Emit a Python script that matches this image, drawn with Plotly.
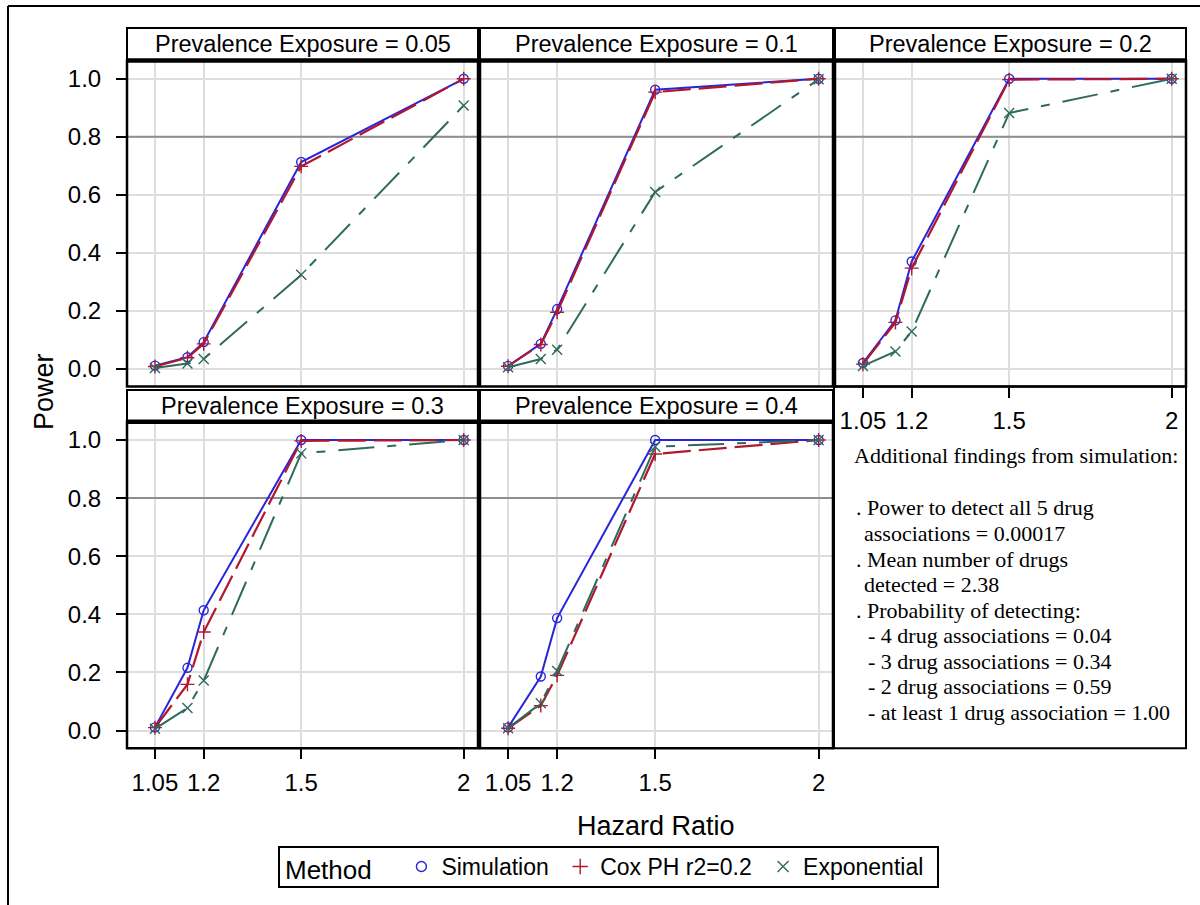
import plotly.graph_objects as go

W, H = 1200, 905

# ---------------- data ----------------
hazard_ratio = [1.05, 1.15, 1.2, 1.5, 2.0]
x_tick_values = [1.05, 1.2, 1.5, 2.0]
x_tick_labels = ["1.05", "1.2", "1.5", "2"]
y_tick_values = [0.0, 0.2, 0.4, 0.6, 0.8, 1.0]
y_tick_labels = ["0.0", "0.2", "0.4", "0.6", "0.8", "1.0"]
power_target = 0.8

prevalence_labels = ["0.05", "0.1", "0.2", "0.3", "0.4"]
method_names = ["Simulation", "Cox PH r2=0.2", "Exponential"]

simulation_p005 = [0.011, 0.040, 0.092, 0.713, 1.000]
cox_p005 = [0.008, 0.038, 0.086, 0.698, 1.000]
exponential_p005 = [0.003, 0.018, 0.034, 0.324, 0.908]

simulation_p01 = [0.010, 0.086, 0.206, 0.962, 1.000]
cox_p01 = [0.009, 0.084, 0.195, 0.954, 1.000]
exponential_p01 = [0.005, 0.034, 0.066, 0.610, 0.998]

simulation_p02 = [0.020, 0.167, 0.370, 1.000, 1.000]
cox_p02 = [0.016, 0.160, 0.347, 0.997, 1.000]
exponential_p02 = [0.010, 0.060, 0.129, 0.882, 1.000]

simulation_p03 = [0.011, 0.216, 0.414, 1.000, 1.000]
cox_p03 = [0.010, 0.159, 0.339, 0.997, 1.000]
exponential_p03 = [0.006, 0.078, 0.172, 0.954, 1.000]

simulation_p04 = [0.011, 0.186, 0.387, 1.000, 1.000]
cox_p04 = [0.008, 0.086, 0.190, 0.952, 1.000]
exponential_p04 = [0.008, 0.094, 0.205, 0.977, 1.000]

note_title = "Additional findings from simulation:"
note_lines = [
    ". Power to detect all 5 drug",
    "associations = 0.00017",
    ". Mean number of drugs",
    "detected = 2.38",
    ". Probability of detecting:",
    "- 4 drug associations = 0.04",
    "- 3 drug associations = 0.34",
    "- 2 drug associations = 0.59",
    "- at least 1 drug association = 1.00",
]

power_by_panel = [
    [simulation_p005, cox_p005, exponential_p005],
    [simulation_p01, cox_p01, exponential_p01],
    [simulation_p02, cox_p02, exponential_p02],
    [simulation_p03, cox_p03, exponential_p03],
    [simulation_p04, cox_p04, exponential_p04],
]

# ---------------- styles / geometry ----------------
SANS = "Liberation Sans, Arial, sans-serif"
SERIF = "Liberation Serif, Times New Roman, serif"
colors = ["#2A25D9", "#B2182B", "#2F6A5F"]
dashes = ["solid", "28px,8px", "36px,13px,9px,13px"]
symbols = ["circle-open", "cross-thin-open", "x-thin-open"]
line_widths = [2, 2.2, 2]
marker_sizes = [9, 10, 10]
GRID = "#DEDEDE"
REF_COLOR = "#8E8E8E"


def px(x):
    return x / W


def py(y):
    return 1 - y / H


# plot-area boxes in pixels: x0, x1, ytop, ybottom
panel_boxes = [
    (127, 478, 60.5, 386.5),
    (480, 833, 60.5, 386.5),
    (835, 1186, 60.5, 386.5),
    (127, 478, 421.7, 748.3),
    (480, 833, 421.7, 748.3),
]
header_tops = [28, 28, 28, 390, 390]
show_y_labels = [True, False, False, True, False]
show_x_labels = [False, False, True, True, True]
x_range = [0.964, 2.044]
y_range = [-0.061, 1.063]

fig = go.Figure()
layout = dict(
    width=W, height=H, autosize=False,
    margin=dict(l=0, r=0, t=0, b=0, pad=0),
    paper_bgcolor="white", plot_bgcolor="white",
    font=dict(family=SANS, color="black", size=23),
    showlegend=True,
)
shapes = []
annotations = []

for i, (x0, x1, yt, yb) in enumerate(panel_boxes):
    n = "" if i == 0 else str(i + 1)
    xa = "x" + n
    ya = "y" + n
    # reference line at target power (drawn first, under the data)
    fig.add_trace(go.Scatter(
        x=x_range, y=[power_target, power_target], mode="lines",
        line=dict(color=REF_COLOR, width=2), showlegend=False,
        xaxis=xa, yaxis=ya, hoverinfo="skip", cliponaxis=True))
    for m in range(3):
        fig.add_trace(go.Scatter(
            x=hazard_ratio, y=power_by_panel[i][m], mode="lines+markers",
            line=dict(color=colors[m], width=line_widths[m], dash=dashes[m]),
            marker=dict(symbol=symbols[m], size=marker_sizes[m], color=colors[m],
                        line=dict(color=colors[m], width=1.4)),
            name=method_names[m], showlegend=False, xaxis=xa, yaxis=ya,
            hoverinfo="skip",
        ))
    layout["xaxis" + n] = dict(
        domain=[px(x0), px(x1)], range=x_range, anchor=ya,
        tickvals=x_tick_values, ticktext=x_tick_labels,
        showgrid=True, gridcolor=GRID, gridwidth=2,
        showline=False, zeroline=False,
        ticks="outside" if show_x_labels[i] else "",
        ticklen=10, tickwidth=2, tickcolor="black",
        showticklabels=show_x_labels[i], ticklabelstandoff=3,
        tickfont=dict(size=24, family=SANS),
    )
    layout["yaxis" + n] = dict(
        domain=[py(yb), py(yt)], range=y_range, anchor=xa,
        tickvals=y_tick_values, ticktext=y_tick_labels,
        showgrid=True, gridcolor=GRID, gridwidth=2,
        showline=False, zeroline=False,
        ticks="outside" if show_y_labels[i] else "",
        ticklen=10, tickwidth=2, tickcolor="black",
        showticklabels=show_y_labels[i], ticklabelstandoff=10,
        tickfont=dict(size=24, family=SANS),
    )
    # panel border
    shapes.append(dict(type="rect", xref="paper", yref="paper",
                       x0=px(x0), x1=px(x1), y0=py(yb), y1=py(yt),
                       line=dict(color="black", width=2.5)))
    # header box
    ht = header_tops[i]
    shapes.append(dict(type="rect", xref="paper", yref="paper",
                       x0=px(x0), x1=px(x1), y0=py(yt), y1=py(ht),
                       line=dict(color="black", width=2)))
    shapes.append(dict(type="line", xref="paper", yref="paper",
                       x0=px(x0), x1=px(x1), y0=py(yt), y1=py(yt),
                       line=dict(color="black", width=4.5)))
    annotations.append(dict(
        text="Prevalence Exposure = " + prevalence_labels[i],
        xref="paper", yref="paper", x=px((x0 + x1) / 2), y=py((ht + yt) / 2),
        xanchor="center", yanchor="middle", showarrow=False,
        font=dict(size=23.5, family=SANS)))

# empty bottom-right cell axis (tick marks only)
layout["xaxis6"] = dict(domain=[px(835), px(1186)], range=x_range, anchor="y6",
                        tickvals=x_tick_values, showticklabels=False,
                        ticks="outside", ticklen=10, tickwidth=2, tickcolor="black",
                        showgrid=False, showline=False, zeroline=False)
layout["yaxis6"] = dict(domain=[py(748.3), py(421.7)], range=y_range, anchor="x6",
                        showticklabels=False, showgrid=False, showline=False,
                        zeroline=False, ticks="")

# legend-only entries
for m in range(3):
    fig.add_trace(go.Scatter(
        x=[None], y=[None], mode="markers", name=method_names[m] + "&nbsp;",
        marker=dict(symbol=symbols[m], size=marker_sizes[m] + 1, color=colors[m],
                    line=dict(color=colors[m], width=1.4)),
        showlegend=True))

# note box
shapes.append(dict(type="rect", xref="paper", yref="paper",
                   x0=px(834), x1=px(1186), y0=py(748.3), y1=py(386.5),
                   line=dict(color="black", width=2)))
annotations.append(dict(text=note_title, xref="paper", yref="paper",
                        x=px(852), y=py(456), xanchor="left", yanchor="middle",
                        showarrow=False, font=dict(family=SERIF, size=22)))
note_x = [854, 862, 854, 862, 854, 866, 866, 866, 866]
for k, t in enumerate(note_lines):
    annotations.append(dict(text=t, xref="paper", yref="paper",
                            x=px(note_x[k]), y=py(508 + 25.5 * k),
                            xanchor="left", yanchor="middle", showarrow=False,
                            font=dict(family=SERIF, size=22)))

# legend frame
shapes.append(dict(type="rect", xref="paper", yref="paper",
                   x0=px(279), x1=px(938), y0=py(887), y1=py(847),
                   line=dict(color="black", width=2)))

# axis titles
annotations.append(dict(text="Hazard Ratio", xref="paper", yref="paper",
                        x=px(656), y=py(826), xanchor="center", yanchor="middle",
                        showarrow=False, font=dict(size=27, family=SANS)))
annotations.append(dict(text="Power", xref="paper", yref="paper",
                        x=px(44), y=py(392), xanchor="center", yanchor="middle",
                        textangle=-90, showarrow=False,
                        font=dict(size=27, family=SANS)))

# outer frame
shapes.append(dict(type="line", xref="paper", yref="paper",
                   x0=px(8), x1=1, y0=py(6), y1=py(6),
                   line=dict(color="black", width=2)))
shapes.append(dict(type="line", xref="paper", yref="paper",
                   x0=px(8), x1=px(8), y0=py(6), y1=0,
                   line=dict(color="black", width=2)))

layout["shapes"] = shapes
layout["annotations"] = annotations
layout["legend"] = dict(
    orientation="h", x=px(283), y=py(867), xanchor="left", yanchor="middle",
    borderwidth=0, bgcolor="rgba(0,0,0,0)",
    font=dict(size=23, family=SANS),
    title=dict(text="Method&nbsp;&nbsp;&nbsp;", font=dict(size=26, family=SANS), side="left"),
    traceorder="normal", itemclick=False, itemdoubleclick=False,
)
fig.update_layout(**layout)

fig.write_html("out.html", config={"displayModeBar": False},
               post_script="document.body.style.margin='0';document.body.style.overflow='hidden';")
